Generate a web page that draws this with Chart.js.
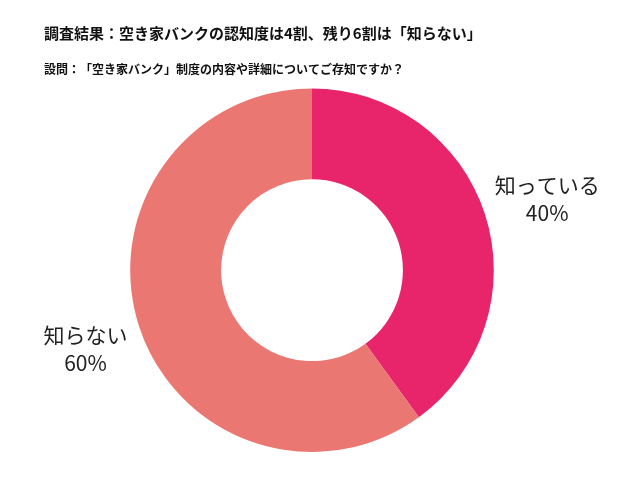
<!DOCTYPE html>
<html lang="ja">
<head>
<meta charset="utf-8">
<title>空き家バンクの認知度</title>
<script src="https://cdn.jsdelivr.net/npm/chart.js@4"></script>
<style>
  html, body { margin: 0; padding: 0; background: #fff; }
  #wrap { width: 630px; height: 485px; }
  canvas { text-spacing-trim: space-all; }
</style>
</head>
<body>
<div id="wrap"><canvas id="donut"></canvas></div>
<script>
// data
const categories = ['知っている', '知らない'];
const values = [40, 60];
const sliceColors = ['#E8246B', '#EB7772'];
const titleText = '調査結果：空き家バンクの認知度は4割、残り6割は「知らない」';
const questionText = '設問：\u200B「空き家バンク」制度の内容や詳細についてご存知ですか？';

const jpFont = '"Noto Sans CJK JP", "Noto Sans", sans-serif';

// how far out the labels sit, as a share of the outer radius
const labelRadius = [1.36, 1.31];

// draws "label / xx%" outside each slice, along the slice's middle angle
const outsideLabels = {
    id: 'outsideLabels',
    afterDatasetsDraw(chart) {
        const ctx = chart.ctx;
        const meta = chart.getDatasetMeta(0);
        const total = values.reduce((a, b) => a + b, 0);
        ctx.save();
        ctx.fillStyle = '#222';
        ctx.font = '21px ' + jpFont;
        ctx.textAlign = 'center';
        ctx.textBaseline = 'middle';
        meta.data.forEach((arc, i) => {
            const p = arc.getProps(['x', 'y', 'startAngle', 'endAngle', 'outerRadius'], true);
            const mid = (p.startAngle + p.endAngle) / 2;
            const r = p.outerRadius * labelRadius[i];
            const x = p.x + Math.cos(mid) * r;
            const y = p.y + Math.sin(mid) * r + 5;
            const pct = Math.round(values[i] / total * 100) + '%';
            ctx.fillText(categories[i], x, y - 14);
            ctx.fillText(pct, x, y + 14);
        });
        ctx.restore();
    }
};

const ctx = document.getElementById('donut').getContext('2d');
const myChart = new Chart(ctx, {
    type: 'doughnut',
    data: {
        labels: categories,
        datasets: [{
            data: values,
            backgroundColor: sliceColors,
            borderWidth: 0,
            hoverOffset: 0
        }]
    },
    options: {
        responsive: true,
        maintainAspectRatio: false,
        animation: false,
        cutout: '50%',
        layout: {
            padding: { top: 24, bottom: 33, left: 44, right: 50 }
        },
        plugins: {
            legend: { display: false },
            tooltip: { enabled: false },
            title: {
                display: true,
                text: titleText,
                align: 'start',
                color: '#111',
                font: { family: jpFont, size: 15, weight: 'bold', lineHeight: 1.2 },
                padding: { top: 0, bottom: 20 }
            },
            subtitle: {
                display: true,
                text: questionText,
                align: 'start',
                color: '#111',
                font: { family: jpFont, size: 12, weight: 'bold', lineHeight: 1.2 },
                padding: { top: 0, bottom: 12 }
            }
        }
    },
    plugins: [outsideLabels]
});
</script>
</body>
</html>
